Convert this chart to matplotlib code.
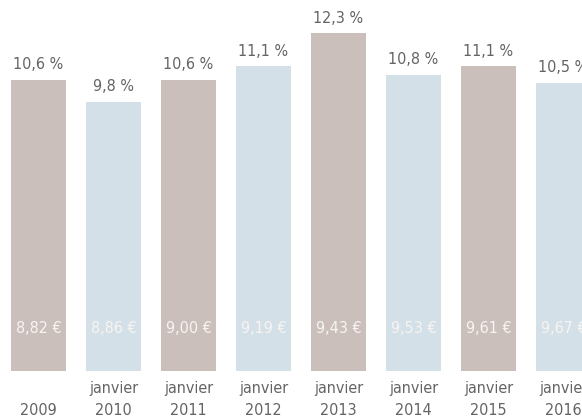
import matplotlib
matplotlib.use("Agg")
import matplotlib.pyplot as plt

# Data
years = ["2009", "janvier\n2010", "janvier\n2011", "janvier\n2012",
         "janvier\n2013", "janvier\n2014", "janvier\n2015", "janvier\n2016"]
pct = [10.6, 9.8, 10.6, 11.1, 12.3, 10.8, 11.1, 10.5]
pct_labels = ["10,6 %", "9,8 %", "10,6 %", "11,1 %", "12,3 %", "10,8 %", "11,1 %", "10,5 %"]
euro_labels = ["8,82 €", "8,86 €", "9,00 €", "9,19 €", "9,43 €", "9,53 €", "9,61 €", "9,67 €"]

brown = "#cbbfbb"
blue = "#d4e0e7"
colors = [brown if i % 2 == 0 else blue for i in range(len(pct))]

plt.rcParams["font.family"] = ["DejaVu Sans"]
txt = dict(fontsize=11.5, fontstretch="condensed")

fig = plt.figure(figsize=(5.82, 4.18), dpi=100)
# bars bottom at y=371 px, top of figure = 13.5 %
ax = fig.add_axes([0, 1 - 371 / 418, 1, 371 / 418])

x = list(range(len(pct)))
ax.bar(x, pct, width=55 / 75, color=colors)

for i in x:
    ax.text(i, pct[i] + 0.28, pct_labels[i], ha="center", va="bottom",
            color="#646464", **txt)
    ax.text(i, 1.55, euro_labels[i], ha="center", va="center",
            color="#f7f4f2", **txt)
    lines = years[i].split("\n")
    if len(lines) == 1:
        ax.text(i, -1.45, lines[0], ha="center", va="center",
                color="#646464", **txt)
    else:
        ax.text(i, -0.62, lines[0], ha="center", va="center",
                color="#646464", **txt)
        ax.text(i, -1.45, lines[1], ha="center", va="center",
                color="#646464", **txt)

# first bar left edge at x=11 px, bar pitch 75 px
ax.set_xlim(-(11 + 27.5) / 75, -(11 + 27.5) / 75 + 582 / 75)
ax.set_ylim(0, 371 / 27.45)
ax.axis("off")

fig.savefig("out.png", dpi=100)
